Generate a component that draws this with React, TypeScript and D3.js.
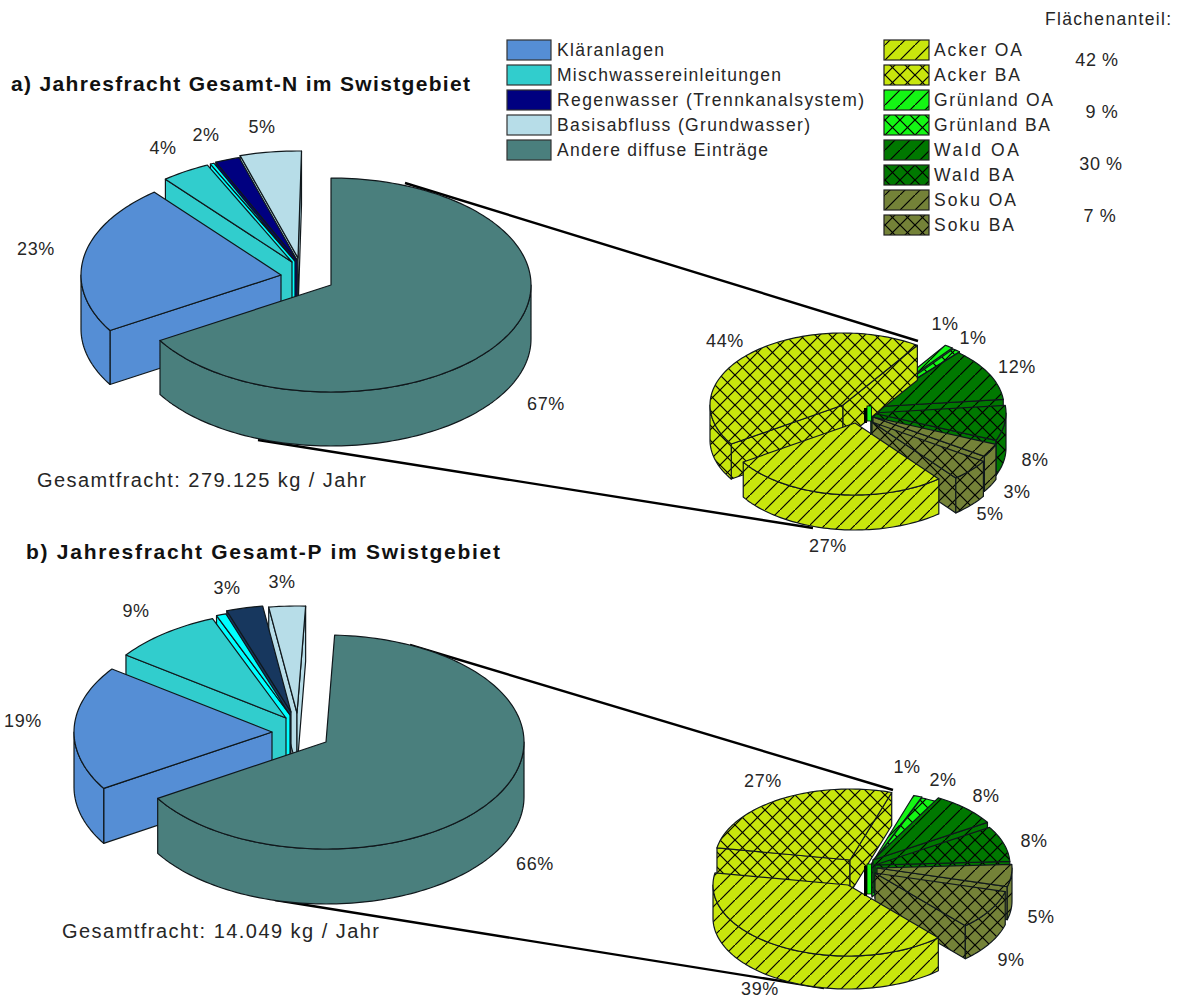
import React from "react";
import * as d3 from "d3";

// Shares of the annual load, in percent
const sourceNames = ["Andere diffuse Einträge", "Kläranlagen", "Mischwassereinleitungen", "Entlastung", "Regenwasser (Trennkanalsystem)", "Basisabfluss (Grundwasser)"];
const nitrogenShares = [67, 23, 4, 0.3, 2, 5];
const phosphorusShares = [66, 19, 9, 0.8, 3, 3];

const landUseNames = ["Grünland OA", "Grünland BA", "Wald OA", "Wald BA", "Soku OA", "Soku BA", "Acker OA", "Acker BA"];
const nitrogenLandUse = [1, 1, 12, 8, 3, 5, 27, 44];
const phosphorusLandUse = [1, 2, 8, 8, 5, 9, 39, 27];

const areaShareLabels = ["42 %", "9 %", "30 %", "7 %"];

// Drawing styles
const sourceFill: Record<string, string> = {
  "Andere diffuse Einträge": "#4a7f7d",
  "Kläranlagen": "#558ed5",
  "Mischwassereinleitungen": "#31cdcd",
  "Entlastung": "#00ffff",
  "Regenwasser (Trennkanalsystem)": "#000080",
  "Basisabfluss (Grundwasser)": "#b7dde8",
};
const landFill: Record<string, string> = {
  Acker: "#c8e60d",
  "Grünland": "#14f614",
  Wald: "#007800",
  Soku: "#748238",
};
const landPatternId = (name: string) => {
  const [land, zone] = name.split(" ");
  return `url(#${land === "Grünland" ? "Gruenland" : land}-${zone})`;
};

type Pt = [number, number];
type PieSpec = {
  shares: number[];
  start: number; // degrees clockwise from 12 o'clock
  sweep: number; // the rounded shares may add up to a little more than a full turn
  rx: number;
  ry: number;
  depth: number;
  apexes: Pt[];
  order: number[];
  fills: string[];
  labelAt: Pt[];
  labels: (string | null)[];
  hubHeight?: number;
};

const sliceLine = d3.line<Pt>().x((p) => p[0]).y((p) => p[1]);
const rad = (deg: number) => (deg * Math.PI) / 180;
const ARC_STEP = rad(1.5);

function rim(cx: number, cy: number, rx: number, ry: number, a0: number, a1: number, dy = 0): Pt[] {
  const steps = d3.range(a0, a1, ARC_STEP).concat(a1);
  return steps.map((t) => [cx + rx * Math.sin(t), cy - ry * Math.cos(t) + dy] as Pt);
}

function Slice({ spec, i, a0, a1 }: { spec: PieSpec; i: number; a0: number; a1: number }) {
  const { rx, ry, depth, apexes, fills } = spec;
  const [cx, cy] = apexes[i];
  const fill = fills[i];
  const at = (t: number): Pt => [cx + rx * Math.sin(t), cy - ry * Math.cos(t)];
  const wall = (t: number) => {
    const e = at(t);
    return sliceLine([[cx, cy], e, [e[0], e[1] + depth], [cx, cy + depth]]) + "Z";
  };
  const curveFrom = Math.max(a0, Math.PI / 2);
  const curveTo = Math.min(a1, (3 * Math.PI) / 2);
  const line = { stroke: "#10181c", strokeWidth: 1.2, strokeLinejoin: "round" as const };
  return (
    <g>
      {Math.sin(a0) < 0 && <path d={wall(a0)} fill={fill} {...line} />}
      {Math.sin(a1) > 0 && <path d={wall(a1)} fill={fill} {...line} />}
      {curveTo > curveFrom && (
        <path
          d={sliceLine([...rim(cx, cy, rx, ry, curveFrom, curveTo), ...rim(cx, cy, rx, ry, curveFrom, curveTo, depth).reverse()]) + "Z"}
          fill={fill}
          {...line}
        />
      )}
      <path d={sliceLine([[cx, cy], ...rim(cx, cy, rx, ry, a0, a1)]) + "Z"} fill={fill} {...line} />
    </g>
  );
}

function Pie3D({ spec }: { spec: PieSpec }) {
  const layout = d3.pie<number>().sort(null)(spec.shares);
  const toAngle = d3.scaleLinear().domain([0, 2 * Math.PI]).range([rad(spec.start), rad(spec.start + spec.sweep)]);
  const hub = spec.apexes[1];
  return (
    <g>
      {spec.order.map((i) => (
        <Slice key={i} spec={spec} i={i} a0={toAngle(layout[i].startAngle)} a1={toAngle(layout[i].endAngle)} />
      ))}
      {spec.hubHeight && (
        <>
          <rect x={hub[0] - 8} y={hub[1] + 2} width={3} height={spec.hubHeight} fill="#000" />
          <rect x={hub[0] - 5} y={hub[1]} width={4.5} height={spec.hubHeight} fill="#14f614" stroke="#000" strokeWidth={0.8} />
        </>
      )}
      {spec.labels.map((label, i) =>
        label ? (
          <text key={i} x={spec.labelAt[i][0]} y={spec.labelAt[i][1]} textAnchor="middle" dominantBaseline="central" {...percentText}>
            {label}
          </text>
        ) : null
      )}
    </g>
  );
}

const FONT = "'Liberation Sans', Arial, sans-serif";
const INK = "#262626";
const percentText = { fontFamily: FONT, fontSize: 18, fill: INK, letterSpacing: 0.6 };

const percent = (v: number) => `${v}%`;
const sourceFills = sourceNames.map((n) => sourceFill[n]);
const landFills = landUseNames.map(landPatternId);
const sourceOrder = [5, 4, 3, 2, 1, 0];
const landOrder = [0, 1, 2, 3, 7, 4, 5, 6];

const pies: PieSpec[] = [
  {
    shares: nitrogenShares, start: 0, sweep: 361, rx: 200, ry: 107, depth: 54,
    apexes: [[331, 285], [281, 275], [292, 262], [295, 261], [297, 260], [298, 258]],
    order: sourceOrder, fills: sourceFills,
    labelAt: [[546, 404], [36, 249], [163, 148], [0, 0], [206, 135], [262, 127]],
    labels: nitrogenShares.map((v, i) => (i === 3 ? null : percent(v))),
  },
  {
    shares: phosphorusShares, start: 2.5, sweep: 360, rx: 198, ry: 107, depth: 55,
    apexes: [[326, 742], [272, 732], [286, 718], [290, 715], [291, 712], [297, 713]],
    order: sourceOrder,
    fills: sourceFills.map((f, i) => (i === 4 ? "#17375e" : f)),
    labelAt: [[535, 864], [23, 721], [136, 611], [0, 0], [227, 588], [282, 582]],
    labels: phosphorusShares.map((v, i) => (i === 3 ? null : percent(v))),
  },
  {
    shares: nitrogenLandUse, start: 34, sweep: 360, rx: 133, ry: 72, depth: 35,
    apexes: [[871, 405], [872, 406], [871, 407], [873, 413], [873, 417], [872, 422], [855, 423], [843, 405]],
    order: landOrder, fills: landFills, hubHeight: 15,
    labelAt: [[945, 324], [973, 338], [1017, 367], [1035, 460], [1017, 492], [990, 514], [828, 546], [725, 341]],
    labels: nitrogenLandUse.map(percent),
  },
  {
    shares: phosphorusLandUse, start: 18, sweep: 360, rx: 135, ry: 71, depth: 33,
    apexes: [[872, 863], [872, 864], [873, 860], [875, 865], [877, 868], [875, 873], [848, 885], [850, 860]],
    order: landOrder, fills: landFills, hubHeight: 30,
    labelAt: [[907, 767], [943, 780], [986, 796], [1034, 841], [1041, 917], [1011, 960], [760, 989], [763, 781]],
    labels: phosphorusLandUse.map(percent),
  },
];

// Lines tying each main pie to its breakdown of diffuse inputs
const connectors: [Pt, Pt][] = [
  [[405, 183], [918, 341]],
  [[258, 440], [813, 528]],
  [[410, 645], [893, 790]],
  [[275, 900], [824, 988]],
];

const leftLegend = ["Kläranlagen", "Mischwassereinleitungen", "Regenwasser (Trennkanalsystem)", "Basisabfluss (Grundwasser)", "Andere diffuse Einträge"];
const leftLegendWidth = [107, 224, 307, 253, 211];
const rightLegend = ["Acker OA", "Acker BA", "Grünland OA", "Grünland BA", "Wald OA", "Wald BA", "Soku OA", "Soku BA"];
const rightLegendWidth = [88, 86, 119, 116, 85, 80, 82, 80];
const areaShareCentre = [1097, 1102, 1101, 1100];

const rowY = d3.scaleLinear().domain([0, 1]).range([50, 75]);

function Hatch({ id, color, cross }: { id: string; color: string; cross: boolean }) {
  const s = 15;
  return (
    <pattern id={id} patternUnits="userSpaceOnUse" width={s} height={s}>
      <rect width={s} height={s} fill={color} />
      <path d={`M-1,${s + 1}L${s + 1},-1`} stroke="#000" strokeWidth={1.2} />
      {cross && <path d={`M-1,-1L${s + 1},${s + 1}`} stroke="#000" strokeWidth={1.2} />}
    </pattern>
  );
}

export default function App() {
  const text = { fontFamily: FONT, fontSize: 17.5, fill: INK, lengthAdjust: "spacing" };
  return (
    <svg width={1181} height={1000} style={{ position: "absolute", left: 0, top: 0, background: "#fff", display: "block" }}>
      <defs>
        {Object.entries(landFill).flatMap(([land, color]) => {
          const key = land === "Grünland" ? "Gruenland" : land;
          return [
            <Hatch key={key + "o"} id={`${key}-OA`} color={color} cross={false} />,
            <Hatch key={key + "b"} id={`${key}-BA`} color={color} cross />,
          ];
        })}
      </defs>

      <text x={11} y={91} textLength={459} lengthAdjust="spacing" fontFamily={FONT} fontSize={21} fontWeight={700} fill="#111">
        a) Jahresfracht Gesamt-N im Swistgebiet
      </text>
      <text x={26} y={559} textLength={474} lengthAdjust="spacing" fontFamily={FONT} fontSize={21} fontWeight={700} fill="#111">
        b) Jahresfracht Gesamt-P im Swistgebiet
      </text>

      {connectors.map(([a, b], i) => (
        <path key={i} d={sliceLine([a, b])!} stroke="#000" strokeWidth={2.4} fill="none" />
      ))}
      {pies.map((spec, i) => (
        <Pie3D key={i} spec={spec} />
      ))}

      <text x={37} y={487} textLength={329} {...text} fontSize={20}>Gesamtfracht:  279.125 kg / Jahr</text>
      <text x={62} y={938} textLength={317} {...text} fontSize={20}>Gesamtfracht: 14.049  kg / Jahr</text>

      {leftLegend.map((name, i) => (
        <g key={name}>
          <rect x={507} y={rowY(i) - 10} width={44} height={20} fill={sourceFill[name]} stroke="#333" strokeWidth={1.2} />
          <text x={557} y={rowY(i) + 6} textLength={leftLegendWidth[i]} {...text}>{name}</text>
        </g>
      ))}
      {rightLegend.map((name, i) => (
        <g key={name}>
          <rect x={884} y={rowY(i) - 10} width={45} height={20} fill={landPatternId(name)} stroke="#222" strokeWidth={1.2} />
          <text x={934} y={rowY(i) + 6} textLength={rightLegendWidth[i]} {...text}>{name}</text>
        </g>
      ))}

      <text x={1045} y={25} textLength={126} {...text}>Flächenanteil:</text>
      {areaShareLabels.map((label, i) => (
        <text key={label} x={areaShareCentre[i]} y={66 + i * 52} textAnchor="middle" {...percentText}>{label}</text>
      ))}
    </svg>
  );
}
